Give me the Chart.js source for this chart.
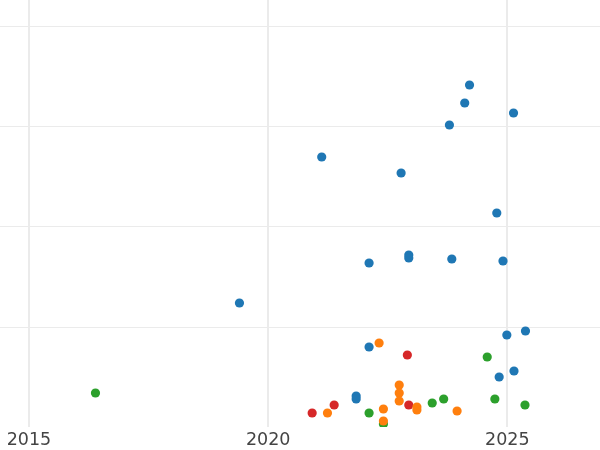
<!DOCTYPE html>
<html>
<head>
<meta charset="utf-8">
<script src="https://cdn.jsdelivr.net/npm/chart.js@4/dist/chart.umd.min.js"></script>
<style>
  html, body { margin: 0; padding: 0; background: #fff; }
  #wrap { width: 600px; height: 450px; position: relative; }
</style>
</head>
<body>
<div id="wrap"><canvas id="chart"></canvas></div>
<script>
// x = year, y = value (axis has no labels)
const blueX = [2024.21, 2024.11, 2025.13, 2023.79, 2021.12, 2022.78, 2024.78, 2022.11, 2022.94, 2022.94, 2023.84, 2024.91, 2024.99, 2025.38, 2022.11, 2024.83, 2025.14, 2021.84, 2021.84, 2019.40];
const blueY = [3.42, 3.24, 3.14, 3.02, 2.70, 2.54, 2.14, 1.64, 1.72, 1.69, 1.68, 1.66, 0.92, 0.96, 0.80, 0.50, 0.56, 0.31, 0.28, 1.24];

const orangeX = [2022.32, 2022.74, 2022.74, 2022.74, 2022.41, 2022.41, 2021.24, 2023.11, 2023.11, 2023.95];
const orangeY = [0.84, 0.42, 0.34, 0.26, 0.18, 0.06, 0.14, 0.20, 0.17, 0.16];

const greenX = [2016.39, 2022.11, 2022.41, 2023.43, 2023.67, 2024.58, 2024.74, 2025.37];
const greenY = [0.34, 0.14, 0.03, 0.24, 0.28, 0.70, 0.28, 0.22];

const redX = [2020.92, 2021.38, 2022.91, 2022.94];
const redY = [0.14, 0.22, 0.72, 0.22];

const xTicks = [2015, 2020, 2025];
const yGrid = [1, 2, 3, 4];

function pts(xs, ys) {
    return xs.map((x, i) => ({ x: x, y: ys[i] }));
}

function series(xs, ys, color) {
    return {
        data: pts(xs, ys),
        backgroundColor: color,
        borderWidth: 0,
        pointRadius: 4.6,
        pointHoverRadius: 4.6,
        clip: 0
    };
}

const ctx = document.getElementById('chart').getContext('2d');
new Chart(ctx, {
    type: 'scatter',
    data: {
        datasets: [
            series(blueX, blueY, '#1f77b4'),
            series(orangeX, orangeY, '#ff7f0e'),
            series(greenX, greenY, '#2ca02c'),
            series(redX, redY, '#d62728')
        ]
    },
    options: {
        responsive: true,
        maintainAspectRatio: false,
        animation: false,
        layout: { padding: 0, autoPadding: false },
        plugins: { legend: { display: false }, tooltip: { enabled: false } },
        scales: {
            x: {
                type: 'linear',
                min: 2014.394,
                max: 2026.938,
                afterBuildTicks: axis => { axis.ticks = xTicks.map(v => ({ value: v })); },
                afterFit: axis => { axis.height = 23; },
                border: { display: false },
                grid: { color: '#ebebeb', lineWidth: 2, drawTicks: false },
                ticks: {
                    padding: 3,
                    color: '#444',
                    font: { family: 'DejaVu Sans', size: 17.5 },
                    maxRotation: 0,
                    callback: v => String(v)
                }
            },
            y: {
                type: 'linear',
                min: 0,
                max: 4.27,
                afterBuildTicks: axis => { axis.ticks = yGrid.map(v => ({ value: v })); },
                afterFit: axis => { axis.width = 0; },
                border: { display: false },
                grid: { color: '#ebebeb', lineWidth: 1, drawTicks: false },
                ticks: { display: false }
            }
        }
    }
});
</script>
</body>
</html>
